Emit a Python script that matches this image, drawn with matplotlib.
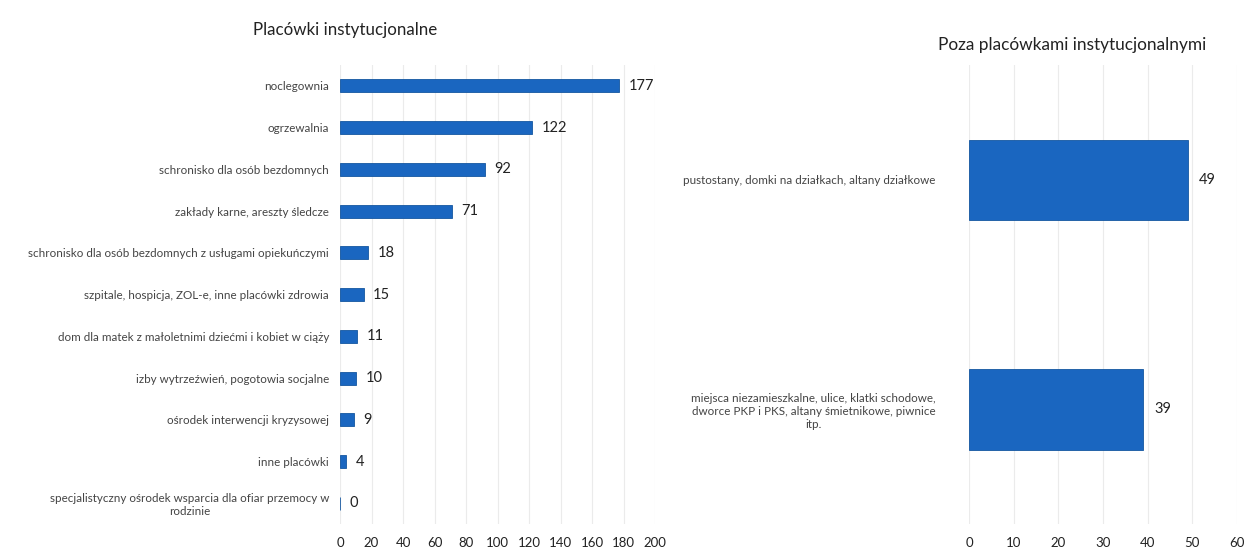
import matplotlib
matplotlib.use("Agg")
import matplotlib.pyplot as plt

left_categories = [
    "noclegownia",
    "ogrzewalnia",
    "schronisko dla osób bezdomnych",
    "zakłady karne, areszty śledcze",
    "schronisko dla osób bezdomnych z usługami opiekuńczymi",
    "szpitale, hospicja, ZOL-e, inne placówki zdrowia",
    "dom dla matek z małoletnimi dziećmi i kobiet w ciąży",
    "izby wytrzeźwień, pogotowia socjalne",
    "ośrodek interwencji kryzysowej",
    "inne placówki",
    "specjalistyczny ośrodek wsparcia dla ofiar przemocy w\nrodzinie",
]
left_values = [177, 122, 92, 71, 18, 15, 11, 10, 9, 4, 0]
left_ticks = [0, 20, 40, 60, 80, 100, 120, 140, 160, 180, 200]

right_categories = [
    "pustostany, domki na działkach, altany działkowe",
    "miejsca niezamieszkalne, ulice, klatki schodowe,\ndworce PKP i PKS, altany śmietnikowe, piwnice\nitp.",
]
right_values = [49, 39]
right_ticks = [0, 10, 20, 30, 40, 50, 60]

titles = ["Placówki instytucjonalne", "Poza placówkami instytucjonalnymi"]

plt.rcParams['font.family'] = ['Lato', 'DejaVu Sans']
BAR = "#1a66c0"

fig = plt.figure(figsize=(12.47, 5.53), dpi=100)
axL = fig.add_axes([0.2727, 0.052, 0.2526, 0.8305])
axR = fig.add_axes([0.7771, 0.052, 0.2149, 0.8305])

def style(ax, ticks, ypad):
    for s in ax.spines.values():
        s.set_visible(False)
    ax.set_xlim(ticks[0], ticks[-1])
    ax.set_xticks(ticks)
    ax.grid(axis='x', color='#ebebeb', linewidth=0.8)
    ax.set_axisbelow(True)
    ax.tick_params(axis='x', length=0, labelsize=9.5, labelcolor='#222222', pad=9)
    ax.tick_params(axis='y', length=0, labelsize=8.4, labelcolor='#444444', pad=ypad)

# Left panel
yl = list(range(len(left_categories)))
axL.barh(yl, left_values, height=0.31, color=BAR, edgecolor='#1456a0', linewidth=0.6)
axL.set_yticks(yl)
axL.set_yticklabels(left_categories, ha='right', multialignment='center')
axL.set_ylim(len(left_categories) - 0.5, -0.5)
style(axL, left_ticks, 8)
for y, v in zip(yl, left_values):
    axL.text(v + 6, y, str(v), va='center', ha='left', fontsize=10.5, color='#222222')
fig.text(0.277, 0.945, titles[0], ha='center', va='center', fontsize=12.2, color='#222222')

# Right panel
yr = list(range(len(right_categories)))
axR.barh(yr, right_values, height=0.35, color=BAR, edgecolor='#1456a0', linewidth=0.6)
axR.set_yticks(yr)
axR.set_yticklabels(right_categories, ha='right', multialignment='center')
axR.set_ylim(len(right_categories) - 0.5, -0.5)
style(axR, right_ticks, 24)
for y, v in zip(yr, right_values):
    axR.text(v + 2.5, y, str(v), va='center', ha='left', fontsize=10.5, color='#222222')
fig.text(0.86, 0.918, titles[1], ha='center', va='center', fontsize=12.4, color='#222222')

fig.savefig("out.png", dpi=100, facecolor='white')
